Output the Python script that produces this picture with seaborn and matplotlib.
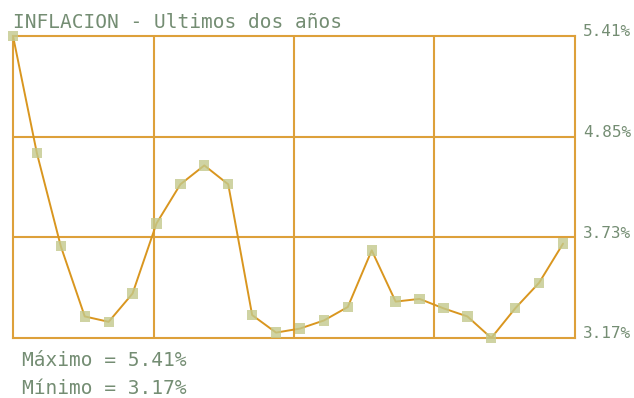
import matplotlib
matplotlib.use("Agg")
import matplotlib.pyplot as plt
from matplotlib.transforms import ScaledTranslation
import numpy as np
import pandas as pd
import seaborn as sns

# Monthly inflation (%) over the last two years
months = list(range(24))
inflation = [5.41, 4.54, 3.85, 3.33, 3.29, 3.50, 4.02, 4.31, 4.45, 4.31, 3.34, 3.21,
             3.24, 3.30, 3.40, 3.82, 3.44, 3.46, 3.39, 3.33, 3.17, 3.39, 3.58, 3.87]
ytick_labels = ["3.17%", "3.73%", "4.85%", "5.41%"]
title = "INFLACION - Ultimos dos años"

ORANGE = "#d9961f"
GRID = "#dda03a"
MARKER = "#c3c98c"
TEXT = "#748d73"

sns.set_style("white")
plt.rcParams["font.family"] = ["DejaVu Sans Mono", "DejaVu Sans"]

df = pd.DataFrame({"mes": months, "inflacion": inflation})

fig = plt.figure(figsize=(6.34, 3.98), dpi=100)
ax = fig.add_axes([13 / 634, 1 - 338 / 398, (575 - 13) / 634, (338 - 36) / 398])

sns.lineplot(data=df, x="mes", y="inflacion", ax=ax, color=ORANGE, linewidth=1.4, zorder=3)
sns.scatterplot(data=df, x="mes", y="inflacion", ax=ax, marker="s", s=55,
                color=MARKER, edgecolor="none", alpha=0.8, zorder=4, clip_on=False)

lo, hi = min(inflation), max(inflation)
ax.set_ylim(lo, hi)
ax.set_xlim(0, 23.5)

# grid: 4 columns x 3 rows
xg = np.linspace(0, 23.5, 5)
yg = np.linspace(lo, hi, 4)
for x in xg[1:-1]:
    ax.axvline(x, color=GRID, lw=1.5, zorder=1)
for y in yg[1:-1]:
    ax.axhline(y, color=GRID, lw=1.5, zorder=1)
for sp in ax.spines.values():
    sp.set_visible(True)
    sp.set_color(GRID)
    sp.set_linewidth(1.5)

ax.set_xticks([])
ax.yaxis.tick_right()
ax.set_yticks(yg)
ax.set_yticklabels(ytick_labels)
ax.tick_params(axis="y", length=0, pad=6, labelsize=11.5, labelcolor=TEXT)
for lab in ax.get_yticklabels():
    lab.set_transform(lab.get_transform() + ScaledTranslation(0, 4 / 72, fig.dpi_scale_trans))
ax.set_xlabel("")
ax.set_ylabel("")

fig.text(13 / 634, 1 - 22 / 398, title, ha="left", va="center", fontsize=14, color=TEXT)
fig.text(22 / 634, 1 - 360 / 398, f"Máximo = {hi:.2f}%", ha="left", va="center",
         fontsize=14, color=TEXT)
fig.text(22 / 634, 1 - 388 / 398, f"Mínimo = {lo:.2f}%", ha="left", va="center",
         fontsize=14, color=TEXT)

fig.savefig("out.png", dpi=100)
